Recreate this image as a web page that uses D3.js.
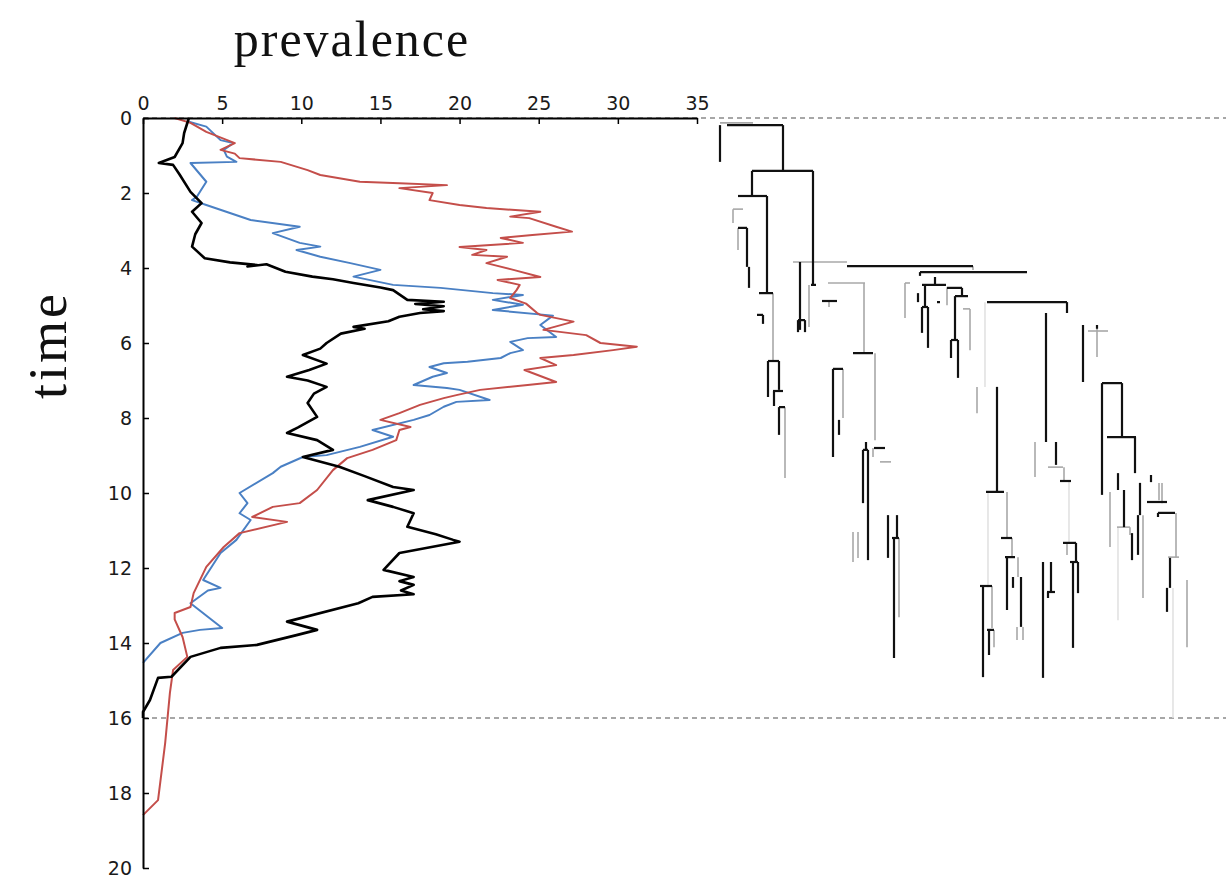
<!DOCTYPE html>
<html>
<head>
<meta charset="utf-8">
<script src="https://cdn.jsdelivr.net/npm/d3@7/dist/d3.min.js"></script>
<style>
  html, body { margin: 0; padding: 0; background: #fff; }
  svg { display: block; }
  .tick text { font-family: "DejaVu Sans", sans-serif; font-size: 19px; fill: #1a1a1a; }
</style>
</head>
<body>
<svg id="chart" width="1226" height="881"></svg>
<script>
// ---------- DATA ----------
const prevalenceTicks = [0, 5, 10, 15, 20, 25, 30, 35];
const timeTicks = [0, 2, 4, 6, 8, 10, 12, 14, 16, 18, 20];
const samplingWindow = [0, 16];   // dashed reference times

// series: [prevalence, time]
const blackSeries = [[2.9,0],[2.6,0.4],[2.5,0.67],[2.0,1.04],[1.0,1.2],[1.9,1.25],[2.3,1.5],[3.0,1.97],[3.7,2.27],[3.1,2.5],[3.7,2.8],[3.3,3.1],[3.1,3.43],[3.9,3.74],[5.5,3.85],[7.2,3.92],[6.6,3.96],[7.8,3.9],[9.0,4.1],[10.7,4.23],[12.0,4.3],[13.3,4.4],[15.0,4.52],[15.8,4.59],[16.7,4.85],[19.0,4.9],[17.2,4.96],[19.0,5.02],[17.7,5.1],[19.0,5.15],[17.5,5.2],[16.2,5.3],[15.5,5.42],[13.3,5.57],[14.0,5.62],[12.5,5.75],[11.6,6.0],[11.2,6.15],[10.1,6.32],[11.6,6.55],[10.5,6.72],[9.1,6.9],[10.4,7.0],[11.6,7.17],[10.8,7.35],[10.4,7.6],[11.0,7.97],[9.8,8.25],[9.1,8.4],[11.0,8.59],[12.0,8.85],[10.1,9.04],[12.4,9.3],[14.0,9.55],[15.8,9.84],[17.1,9.92],[14.2,10.19],[15.8,10.37],[17.1,10.54],[16.7,10.9],[18.5,11.1],[19.6,11.25],[20.0,11.3],[16.2,11.6],[15.2,12.05],[17.1,12.24],[16.2,12.35],[17.1,12.45],[16.3,12.6],[17.1,12.7],[14.5,12.77],[13.6,12.94],[9.1,13.43],[11.0,13.65],[9.7,13.79],[7.2,14.05],[4.9,14.13],[3.0,14.37],[1.8,14.9],[0.95,14.93],[0.44,15.52],[0,15.84],[0,16.0]];

const redSeries = [[2.0,0],[3.0,0.13],[4.0,0.37],[5.8,0.67],[4.9,0.85],[5.8,0.95],[6.1,1.07],[8.7,1.17],[10.4,1.39],[11.2,1.52],[13.7,1.7],[16.2,1.74],[19.2,1.79],[16.2,1.87],[18.3,2.0],[18.1,2.19],[20.0,2.32],[21.7,2.4],[25.1,2.5],[23.2,2.63],[24.4,2.67],[26.1,2.9],[27.1,3.03],[24.6,3.12],[22.6,3.2],[24.0,3.33],[20.0,3.44],[21.7,3.52],[20.8,3.65],[23.0,3.7],[21.7,3.87],[23.4,4.05],[25.1,4.24],[22.4,4.32],[23.8,4.45],[23.6,4.59],[23.2,4.8],[24.2,4.95],[24.9,5.2],[25.1,5.25],[27.2,5.43],[25.3,5.65],[28.0,5.79],[28.9,6.0],[31.2,6.1],[29.7,6.19],[27.2,6.32],[25.1,6.4],[26.1,6.59],[24.1,6.72],[26.1,7.04],[24.3,7.12],[21.3,7.25],[19.8,7.39],[19.0,7.47],[17.5,7.65],[16.2,7.87],[15.0,8.05],[16.9,8.24],[16.2,8.32],[16.0,8.59],[14.5,8.85],[12.9,9.07],[12.0,9.39],[11.0,9.92],[9.9,10.27],[8.2,10.37],[6.9,10.64],[9.1,10.77],[6.1,11.07],[5.1,11.44],[4.0,11.97],[3.2,12.67],[3.0,13.04],[2.0,13.2],[2.0,13.37],[2.5,13.84],[2.8,14.37],[1.9,14.72],[1.7,15.33],[1.4,16.67],[0.95,18.19],[0,18.59]];

const blueSeries = [[2.9,0.1],[4.0,0.23],[4.9,0.59],[5.7,0.67],[5.1,0.85],[5.3,1.03],[5.9,1.17],[3.0,1.2],[4.0,1.7],[3.4,2.1],[3.1,2.19],[4.0,2.32],[6.8,2.72],[9.9,2.9],[8.2,3.07],[9.9,3.33],[11.2,3.43],[9.7,3.52],[11.2,3.7],[13.1,3.87],[15.0,4.05],[13.3,4.23],[15.8,4.45],[18.8,4.53],[22.1,4.67],[24.0,4.72],[22.1,4.85],[24.0,4.98],[22.1,5.12],[25.9,5.27],[25.1,5.52],[26.1,5.84],[24.3,5.87],[23.2,5.97],[24.0,6.19],[23.2,6.27],[22.6,6.4],[20.5,6.5],[19.0,6.54],[18.1,6.64],[19.2,6.8],[18.3,6.9],[17.1,7.12],[19.2,7.2],[20.0,7.25],[21.9,7.52],[19.8,7.57],[19.0,7.7],[18.1,7.92],[17.1,8.05],[14.5,8.32],[15.8,8.5],[13.7,8.77],[11.6,8.99],[10.1,9.04],[8.7,9.3],[8.2,9.47],[6.1,10.0],[6.6,10.27],[6.1,10.54],[6.8,10.72],[5.9,11.25],[4.9,11.6],[3.8,12.32],[4.9,12.53],[4.1,12.6],[3.0,12.94],[5.0,13.6],[3.6,13.65],[2.5,13.73],[1.1,14.0],[0,14.53]];

// genealogy: vertical branches [lane, t0, t1], horizontal links [lane0, lane1, t]
const treeVStrong = [[8,0.19,1.17],[71,0.19,1.41],[40,1.41,2.08],[101,1.41,4.45],[55,2.08,4.67],[35,2.93,3.97],[37,3.97,4.53],[51,5.25,5.49],[88,3.84,5.65],[86,5.39,5.71],[93,5.39,5.71],[208,4.11,4.21],[223,4.24,4.45],[206,4.67,4.91],[213,4.45,5.04],[210,5.04,5.73],[216,5.04,6.13],[250,4.53,4.77],[243,4.75,5.92],[239,5.92,6.40],[246,5.92,6.93],[355,4.91,5.20],[334,5.20,8.64],[344,8.64,9.25],[285,7.17,9.97],[371,5.52,7.04],[385,5.52,5.62],[390,7.07,10.05],[410,7.07,8.51],[423,8.51,9.47],[121,6.69,9.04],[127,8.05,8.45],[151,8.85,10.27],[156,8.85,11.79],[154,8.64,8.85],[56,6.48,7.44],[67,6.48,7.25],[62,7.28,7.68],[67,7.71,8.45],[176,10.59,11.73],[185,10.59,11.20],[182,11.20,14.40],[271,12.48,14.91],[277,13.65,14.32],[295,11.71,13.12],[301,12.24,12.53],[309,12.24,13.57],[331,11.84,14.93],[339,11.84,12.64],[336,12.64,12.80],[364,11.33,11.84],[361,11.84,14.13],[366,11.84,12.67],[406,9.47,9.92],[412,9.92,10.91],[420,11.07,11.79],[428,9.73,10.59],[426,10.59,11.65],[439,9.52,9.71],[458,11.73,12.53],[455,12.53,13.17],[446,10.53,10.64]];
const treeHStrong = [[15,71,0.19],[40,101,1.41],[26,55,2.08],[47,61,4.67],[26,35,2.93],[45,51,5.25],[99,104,4.45],[86,93,5.39],[135,261,3.95],[208,315,4.11],[210,234,4.45],[235,250,4.53],[243,256,4.75],[275,355,4.91],[110,125,4.88],[141,161,6.27],[121,131,6.69],[56,67,6.48],[61,71,7.28],[67,73,7.71],[151,156,8.85],[162,173,8.80],[274,292,9.97],[289,300,11.20],[293,303,11.71],[268,280,12.48],[275,282,13.65],[335,343,12.64],[348,359,9.68],[351,364,11.33],[358,366,11.84],[390,410,7.07],[395,424,8.51],[435,455,10.24],[446,463,10.53],[239,246,5.92],[180,187,11.20],[210,216,5.04],[225,228,4.91]];
const treeVFaint = [[21,2.43,2.80],[26,2.93,3.52],[61,4.67,6.45],[97,4.45,5.57],[117,4.88,5.04],[152,4.40,6.27],[163,6.27,8.59],[131,6.69,8.00],[73,7.71,9.60],[161,8.80,9.04],[193,4.40,5.33],[235,4.51,4.99],[258,5.09,6.19],[265,7.17,7.87],[323,8.64,9.57],[352,9.31,9.65],[385,5.52,6.37],[398,9.97,11.44],[418,10.91,11.12],[431,10.59,12.80],[450,9.73,10.27],[447,9.73,10.19],[464,10.53,11.71],[475,12.32,14.11],[141,11.04,11.84],[146,11.04,11.73],[187,11.20,13.31],[295,9.97,11.20],[300,11.20,11.71],[306,11.71,12.24],[305,13.57,13.92],[311,13.57,13.92],[280,12.48,13.60],[282,13.65,14.11],[355,11.33,11.65],[261,3.95,4.05]];
const treeHFaint = [[8,41,0.13],[21,31,2.43],[81,135,3.84],[116,153,4.40],[168,179,9.17],[193,198,4.40],[251,258,5.09],[376,396,5.68],[336,351,9.31],[456,467,11.71],[405,418,10.91]];
const treeVPale = [[273,4.91,7.17],[276,9.97,12.51],[357,9.68,11.33],[406,10.91,13.39],[461,12.53,16.00]];

// ---------- LAYOUT ----------
const svg = d3.select("#chart");
const x = d3.scaleLinear().domain([0, 35]).range([143, 697]);
const y = d3.scaleLinear().domain([0, 20]).range([118, 868]);
const lane = d3.scaleLinear().domain([0, 500]).range([712, 1212]);

// dashed reference lines
svg.append("g").selectAll("line").data(samplingWindow).join("line")
  .attr("x1", x(0)).attr("x2", 1226)
  .attr("y1", d => y(d)).attr("y2", d => y(d))
  .attr("stroke", "#8a8a8a").attr("stroke-width", 1.6)
  .attr("stroke-dasharray", "5,4");

// tree
const tree = svg.append("g").attr("stroke-linecap", "butt").attr("fill", "none");
function vSeg(data, color, w) {
  tree.append("g").selectAll("line").data(data).join("line")
    .attr("x1", d => lane(d[0])).attr("x2", d => lane(d[0]))
    .attr("y1", d => y(d[1])).attr("y2", d => y(d[2]))
    .attr("stroke", color).attr("stroke-width", w);
}
function hSeg(data, color, w) {
  tree.append("g").selectAll("line").data(data).join("line")
    .attr("x1", d => lane(d[0])).attr("x2", d => lane(d[1]))
    .attr("y1", d => y(d[2])).attr("y2", d => y(d[2]))
    .attr("stroke", color).attr("stroke-width", w);
}
vSeg(treeVPale, "#e2e2e2", 1.6);
vSeg(treeVFaint, "#a8a8a8", 1.6);
hSeg(treeHFaint, "#a8a8a8", 1.6);
vSeg(treeVStrong, "#111", 2.2);
hSeg(treeHStrong, "#111", 2.2);

// prevalence lines
const line = d3.line().x(d => x(d[0])).y(d => y(d[1]));
svg.append("path").datum(blueSeries).attr("d", line)
  .attr("fill", "none").attr("stroke", "#4a80c4").attr("stroke-width", 2).attr("stroke-linejoin", "round");
svg.append("path").datum(redSeries).attr("d", line)
  .attr("fill", "none").attr("stroke", "#c44e4a").attr("stroke-width", 2).attr("stroke-linejoin", "round");
svg.append("path").datum(blackSeries).attr("d", line)
  .attr("fill", "none").attr("stroke", "#000").attr("stroke-width", 2.6).attr("stroke-linejoin", "round");

// axes
const xAxis = d3.axisTop(x).tickValues(prevalenceTicks).tickSizeInner(-6).tickSizeOuter(0).tickPadding(8);
const gx = svg.append("g").attr("transform", `translate(0,${y(0)})`).call(xAxis);
gx.select(".domain").attr("stroke", "#000").attr("stroke-width", 2);
gx.selectAll(".tick line").attr("stroke", "#000").attr("stroke-width", 1.5);

const yAxis = d3.axisLeft(y).tickValues(timeTicks).tickSizeInner(-6).tickSizeOuter(0).tickPadding(11);
const gy = svg.append("g").attr("transform", `translate(${x(0)},0)`).call(yAxis);
gy.select(".domain").attr("stroke", "#000").attr("stroke-width", 2);
gy.selectAll(".tick line").attr("stroke", "#000").attr("stroke-width", 1.5);

// titles
svg.append("text").attr("x", 352).attr("y", 56).attr("text-anchor", "middle")
  .attr("font-family", "Liberation Serif, DejaVu Serif, serif").attr("font-size", 50)
  .attr("letter-spacing", 2).attr("fill", "#111").text("prevalence");
svg.append("text").attr("transform", "translate(66,345) rotate(-90)").attr("text-anchor", "middle")
  .attr("font-family", "Liberation Serif, DejaVu Serif, serif").attr("font-size", 54)
  .attr("letter-spacing", 3).attr("fill", "#111").text("time");
</script>
</body>
</html>
